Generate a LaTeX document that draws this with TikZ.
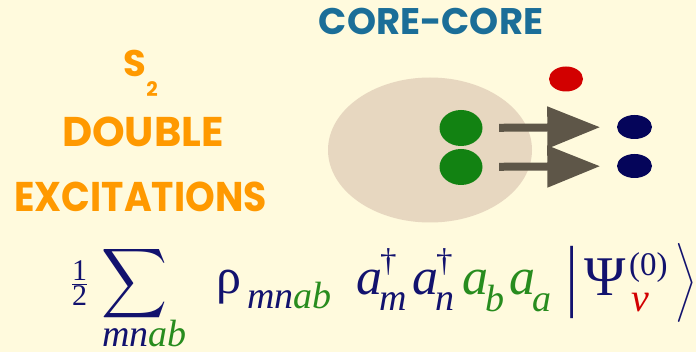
\documentclass[tikz,border=0pt]{standalone}
\usepackage{amsmath}
\usepackage{fontspec}
\setmainfont{Liberation Serif}
\newfontfamily\headfont{Poppins}
\usetikzlibrary{arrows.meta,shapes.geometric}

\definecolor{bg}{RGB}{255,250,221}
\definecolor{coreblue}{RGB}{27,110,152}
\definecolor{orng}{RGB}{255,153,0}
\definecolor{cloud}{RGB}{231,215,192}
\definecolor{elgreen}{RGB}{18,130,18}
\definecolor{elred}{RGB}{210,0,0}
\definecolor{elnavy}{RGB}{5,5,90}
\definecolor{fnavy}{RGB}{18,18,110}
\definecolor{fgreen}{RGB}{40,140,30}
\definecolor{shaft}{RGB}{94,86,72}

\newcommand{\fs}[1]{\fontsize{#1}{#1}\selectfont}
% a^dagger_x and a_x
\newcommand{\cre}[1]{\textit{a}\rlap{\kern-2pt\raisebox{23pt}{\fs{33}\dag}}\kern-3pt\raisebox{-16pt}{\fs{38}\textit{#1}}}
\newcommand{\ann}[1]{\textit{a}\kern-3pt\raisebox{-17pt}{\fs{38}\textit{#1}}}

\begin{document}
\begin{tikzpicture}[x=1pt,y=-1pt,
 head/.style={font=\headfont\bfseries\fs{41.5},text=orng,inner sep=0pt,anchor=base},
 dot/.style={ellipse,inner sep=0pt,minimum width=34pt,minimum height=25pt},
 frm/.style={text=fnavy,inner sep=0pt},
 hop/.style={line width=8pt,draw=shaft,-{Triangle[length=53pt,width=40pt]},
  shorten <=16.5pt,shorten >=16.5pt}]
\useasboundingbox (0,0) rectangle (696,352);
\fill[bg] (0,0) rectangle (696,352);
% titles
\node[head,font=\headfont\bfseries\fs{37},text=coreblue] (title) at (431,35) {CORE-CORE};
\node[head,font=\headfont\bfseries\fs{37},anchor=base west] (s2) at (123.5,77)
 {S\raisebox{-20pt}{\fs{20}2}};
\node[head] (dbl) at (143,147) {DOUBLE};
\node[head] (exc) at (140.5,212) {\scalebox{0.91}[1]{EXCITATIONS}};
% core and electrons
\node[ellipse,fill=cloud,inner sep=0pt,minimum width=204pt,minimum height=145pt] (core) at (430,150) {};
\node[dot,fill=elgreen,minimum width=43pt,minimum height=36pt] (g1) at (461,128) {};
\node[dot,fill=elgreen,minimum width=43pt,minimum height=36pt] (g2) at (461,167) {};
\node[dot,fill=elred] (r) at (566,79) {};
\node[dot,fill=elnavy,minimum width=35pt,minimum height=24pt] (v1) at (634.5,127) {};
\node[dot,fill=elnavy,minimum width=35pt,minimum height=24pt] (v2) at (634.5,166) {};
\draw[hop] (g1) -- (v1);
\draw[hop] (g2) -- (v2);
% prefactor and sum
\node[frm,anchor=base] (half) at (79.5,290.5) {\fs{30}$\frac{\mbox{1}}{\mbox{2}}$};
\node[frm] (sum) at (135,284) {\resizebox*{66pt}{78pt}{$\displaystyle\sum$}};
\node[frm,anchor=base,font=\itshape\fs{38}] (sumidx) at (144.5,347) {mn\textcolor{fgreen}{ab}};
\node[frm,anchor=base west,font=\fs{50}] (rho) at (216,294) {ρ};
\node[frm,anchor=base west,font=\itshape\fs{38}] (rhoidx) at (247,309) {mn\textcolor{fgreen}{ab}};
% operators
\node[frm,anchor=base west,font=\fs{52}] (cm) at (356,295) {\cre{m}};
\node[frm,anchor=base west,font=\fs{52}] (cn) at (412,295) {\cre{n}};
\node[frm,anchor=base west,font=\fs{52},text=fgreen] (ab) at (462,295) {\ann{b}};
\node[frm,anchor=base west,font=\fs{52},text=fgreen] (aa) at (509,295) {\ann{a}};
% ket
\node[frm,font=\fs{56}] (bra) at (572,282.5) {\scalebox{1}[1.42]{|}};
\node[frm,anchor=base west,font=\fs{56}] (psi) at (584,296) {Ψ};
\node[frm,anchor=base west,font=\fs{33}] (order) at (629,276) {(0)};
\node[frm,anchor=base west,font=\itshape\fs{40},text=elred] (nu) at (631,312) {ν};
\node[frm] (ket) at (684.5,282.5)
 {\resizebox*{!}{79pt}{$\left.\vrule height17.5pt depth12.5pt width0pt\right\rangle$}};
\end{tikzpicture}
\end{document}
